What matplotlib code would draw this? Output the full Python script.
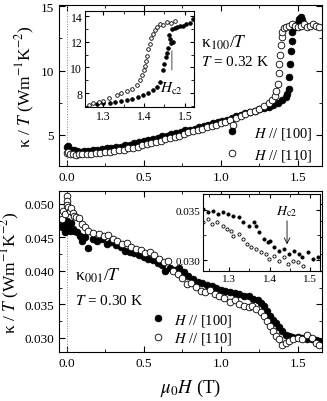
import numpy as np
import matplotlib
matplotlib.use("Agg")
import matplotlib.pyplot as plt
from matplotlib.ticker import MultipleLocator, FormatStrFormatter

plt.rcParams['font.family'] = 'Liberation Serif'
plt.rcParams['mathtext.fontset'] = 'stix'

# ---- top panel: kappa_100 / T  (T = 0.32 K) ----
h100_a = [0.00, 0.01, 0.03, 0.05, 0.07, 0.09, 0.11, 0.14, 0.17, 0.20, 0.23, 0.26, 0.29, 0.32,
          0.35, 0.38, 0.41, 0.44, 0.47, 0.50, 0.53, 0.56, 0.59, 0.62, 0.65, 0.68, 0.71, 0.74,
          0.77, 0.80, 0.83, 0.86, 0.89, 0.92, 0.95, 0.98, 1.01, 1.04, 1.07, 1.10, 1.13, 1.16,
          1.19, 1.22, 1.25, 1.28, 1.31, 1.34, 1.37, 1.40, 1.42, 1.43, 1.44, 1.445, 1.45, 1.455,
          1.46, 1.465, 1.47, 1.48, 1.49, 1.50, 1.51, 1.52, 1.53]
k100_a = [4.10, 4.15, 3.85, 3.80, 3.75, 3.70, 3.72, 3.78, 3.80, 3.85, 3.90, 3.95, 4.00, 4.05,
          4.10, 4.20, 4.25, 4.35, 4.45, 4.55, 4.60, 4.70, 4.80, 4.90, 4.95, 5.05, 5.15, 5.25,
          5.35, 5.40, 5.50, 5.60, 5.70, 5.80, 5.90, 6.00, 6.10, 6.20, 6.35, 6.45, 6.55, 6.70,
          6.80, 6.90, 7.00, 7.10, 7.20, 7.35, 7.50, 7.70, 7.95, 8.20, 8.60, 9.50, 10.5, 11.5,
          12.3, 13.0, 13.3, 13.4, 13.5, 13.7, 14.0, 14.2, 13.9]
h100_b = [0.00, 0.01, 0.02, 0.04, 0.06, 0.08, 0.10, 0.13, 0.16, 0.19, 0.22, 0.25, 0.28, 0.31,
          0.34, 0.37, 0.40, 0.43, 0.46, 0.49, 0.52, 0.55, 0.58, 0.61, 0.64, 0.67, 0.70, 0.73,
          0.76, 0.79, 0.82, 0.85, 0.88, 0.91, 0.94, 0.97, 1.00, 1.03, 1.06, 1.08, 1.10, 1.13,
          1.16, 1.19, 1.22, 1.25, 1.28, 1.31, 1.33, 1.35, 1.36, 1.37, 1.375, 1.38, 1.385, 1.39,
          1.395, 1.40, 1.41, 1.42, 1.44, 1.46, 1.48, 1.50, 1.52, 1.54, 1.56, 1.58, 1.60, 1.62, 1.64]
k100_b = [3.60, 3.70, 3.55, 3.50, 3.45, 3.50, 3.55, 3.50, 3.55, 3.60, 3.60, 3.65, 3.70, 3.75,
          3.80, 3.85, 3.95, 4.00, 4.10, 4.20, 4.30, 4.35, 4.45, 4.55, 4.65, 4.75, 4.85, 4.95,
          5.05, 5.20, 5.30, 5.40, 5.50, 5.60, 5.70, 5.80, 5.90, 6.00, 6.15, 5.75, 6.30, 6.45,
          6.60, 6.75, 6.90, 7.05, 7.25, 7.45, 7.70, 8.00, 8.40, 9.00, 9.80, 10.5, 11.2, 12.0,
          12.6, 13.0, 13.3, 13.4, 13.5, 13.6, 13.5, 13.4, 13.5, 13.6, 13.4, 13.5, 13.6, 13.5, 13.4]

# top inset (zoom near Hc2)
hi100_a = [1.249, 1.261, 1.285, 1.30, 1.317, 1.33, 1.345, 1.359, 1.37, 1.385, 1.398, 1.41,
           1.422, 1.432, 1.439, 1.446, 1.450, 1.453, 1.456, 1.458, 1.460, 1.463, 1.466, 1.468,
           1.471, 1.475, 1.48, 1.487, 1.495, 1.503, 1.512, 1.52]
ki100_a = [6.70, 6.85, 7.15, 7.20, 7.23, 7.30, 7.38, 7.46, 7.55, 7.70, 7.85, 8.00,
           8.23, 8.50, 8.90, 9.77, 10.3, 10.8, 11.1, 11.5, 12.5, 12.2, 11.9, 13.0,
           12.0, 13.1, 13.15, 13.2, 13.2, 13.4, 13.5, 13.8]
hi100_b = [1.251, 1.265, 1.276, 1.29, 1.30, 1.315, 1.334, 1.345, 1.358, 1.37, 1.383, 1.39,
           1.395, 1.399, 1.402, 1.405, 1.408, 1.411, 1.415, 1.418, 1.422, 1.427, 1.432,
           1.439, 1.447, 1.456, 1.466, 1.476]
ki100_b = [7.00, 7.10, 7.23, 7.30, 7.38, 7.60, 7.85, 8.00, 8.15, 8.35, 8.60, 9.00,
           9.40, 9.80, 10.15, 10.5, 10.9, 11.4, 11.85, 12.3, 12.6, 12.9, 13.15,
           13.4, 13.3, 13.55, 13.5, 13.6]

# ---- bottom panel: kappa_001 / T  (T = 0.30 K) ----
h001_a = [-0.03, -0.02, -0.01, 0.00, 0.005, 0.01, 0.02, 0.03, 0.04, 0.05, 0.07, 0.09, 0.10,
          0.12, 0.14, 0.17, 0.20, 0.23, 0.26, 0.29, 0.32, 0.35, 0.38, 0.41, 0.44, 0.47, 0.50,
          0.53, 0.56, 0.59, 0.62, 0.64, 0.67, 0.70, 0.73, 0.76, 0.79, 0.82, 0.85, 0.88, 0.91,
          0.94, 0.97, 1.00, 1.03, 1.06, 1.09, 1.12, 1.15, 1.18, 1.21, 1.24, 1.26, 1.28, 1.30,
          1.32, 1.34, 1.36, 1.38, 1.40, 1.42, 1.44, 1.46, 1.48, 1.50, 1.53, 1.56, 1.59, 1.62, 1.64]
k001_a = [0.0465, 0.0470, 0.0458, 0.0475, 0.0462, 0.0468, 0.0460, 0.0472, 0.0463, 0.0459,
          0.0458, 0.0452, 0.0445, 0.0450, 0.0434, 0.0448, 0.0444, 0.0447, 0.0440, 0.0443,
          0.0438, 0.0436, 0.0430, 0.0428, 0.0426, 0.0424, 0.0421, 0.0418, 0.0416, 0.0412,
          0.0409, 0.0400, 0.0405, 0.0402, 0.0404, 0.0398, 0.0392, 0.0388, 0.0384, 0.0382,
          0.0379, 0.0377, 0.0375, 0.0372, 0.0370, 0.0368, 0.0367, 0.0365, 0.0362, 0.0363,
          0.0358, 0.0356, 0.0352, 0.0348, 0.0340, 0.0333, 0.0327, 0.0322, 0.0316, 0.0310,
          0.0305, 0.0303, 0.0302, 0.0300, 0.0301, 0.0300, 0.0298, 0.0299, 0.0297, 0.0296]
h001_b = [-0.03, -0.02, -0.01, 0.00, 0.003, 0.006, 0.01, 0.02, 0.03, 0.04, 0.05, 0.06, 0.08,
          0.10, 0.12, 0.14, 0.17, 0.21, 0.24, 0.27, 0.30, 0.33, 0.36, 0.39, 0.42, 0.45, 0.48,
          0.51, 0.54, 0.57, 0.60, 0.63, 0.66, 0.69, 0.72, 0.75, 0.78, 0.81, 0.84, 0.87, 0.90,
          0.93, 0.96, 0.99, 1.02, 1.06, 1.09, 1.12, 1.15, 1.18, 1.20, 1.23, 1.26, 1.28, 1.30,
          1.32, 1.34, 1.36, 1.38, 1.40, 1.42, 1.44, 1.47, 1.50, 1.53, 1.56, 1.59, 1.62, 1.64]
k001_b = [0.0478, 0.0490, 0.0485, 0.0512, 0.0505, 0.0498, 0.0495, 0.0490, 0.0494, 0.0486,
          0.0482, 0.0480, 0.0479, 0.0470, 0.0466, 0.0460, 0.0457, 0.0455, 0.0452, 0.0453,
          0.0447, 0.0445, 0.0440, 0.0441, 0.0436, 0.0433, 0.0431, 0.0427, 0.0428, 0.0423,
          0.0418, 0.0413, 0.0415, 0.0400, 0.0395, 0.0390, 0.0380, 0.0382, 0.0376, 0.0370,
          0.0368, 0.0372, 0.0365, 0.0362, 0.0360, 0.0354, 0.0356, 0.0350, 0.0348, 0.0346,
          0.0348, 0.0343, 0.0338, 0.0333, 0.0325, 0.0318, 0.0310, 0.0303, 0.0298, 0.0290,
          0.0292, 0.0295, 0.0298, 0.0300, 0.0298, 0.0305, 0.0300, 0.0292, 0.0289]

# bottom inset (zoom near Hc2)
hi001_a = [1.235, 1.247, 1.26, 1.272, 1.285, 1.298, 1.31, 1.323, 1.335, 1.348, 1.36, 1.365,
           1.373, 1.385, 1.395, 1.402, 1.41, 1.423, 1.435, 1.448, 1.46, 1.473, 1.48, 1.495,
           1.507, 1.52]
ki001_a = [0.0351, 0.0348, 0.0349, 0.0346, 0.0348, 0.0346, 0.0344, 0.0343, 0.0338, 0.0334,
           0.0338, 0.0334, 0.0328, 0.0321, 0.0318, 0.0319, 0.0313, 0.0309, 0.0311, 0.0306,
           0.0309, 0.0306, 0.0303, 0.0308, 0.0301, 0.0303]
hi001_b = [1.235, 1.247, 1.258, 1.27, 1.285, 1.295, 1.303, 1.31, 1.323, 1.333, 1.345, 1.353,
           1.365, 1.378, 1.39, 1.398, 1.41, 1.423, 1.435, 1.445, 1.458, 1.47, 1.483]
ki001_b = [0.0338, 0.0341, 0.0336, 0.0338, 0.0334, 0.0331, 0.0329, 0.0324, 0.0326, 0.0321,
           0.0316, 0.0313, 0.0311, 0.0308, 0.0306, 0.0301, 0.0304, 0.0299, 0.0303, 0.0296,
           0.0299, 0.0298, 0.0294]

labels = ['$H$ // [100]', '$H$ // [110]']


def style(ax, fs):
    ax.tick_params(which='both', direction='in', top=True, right=True, labelsize=fs)
    ax.tick_params(which='major', length=4, width=0.8)
    ax.tick_params(which='minor', length=2, width=0.6)
    for s in ax.spines.values():
        s.set_linewidth(0.8)


def pts(ax, h, k, filled, ms, lab=None):
    return ax.plot(h, k, 'o', ms=ms, mfc='k' if filled else 'white', mec='k',
                   mew=0.6, ls='none', label=lab)[0]


fig = plt.figure(figsize=(3.27, 4.02), dpi=100)

# top main
ax1 = fig.add_axes([0.180, 0.585, 0.804, 0.400])
ax1.axvline(0, color='gray', ls=':', lw=0.7)
pts(ax1, h100_a, k100_a, True, 4.8, labels[0])
pts(ax1, h100_b, k100_b, False, 4.8, labels[1])
ax1.set_xlim(-0.05, 1.655)
ax1.set_ylim(2.6, 15.1)
ax1.xaxis.set_major_locator(MultipleLocator(0.5))
ax1.xaxis.set_minor_locator(MultipleLocator(0.25))
ax1.xaxis.set_major_formatter(FormatStrFormatter('%.1f'))
ax1.yaxis.set_major_locator(MultipleLocator(5))
ax1.yaxis.set_minor_locator(MultipleLocator(2.5))
style(ax1, 9.5)
ax1.set_ylabel('κ / $T$ (Wm$^{-1}$K$^{-2}$)', fontsize=12.5)
ax1.yaxis.set_label_coords(-0.085, 0.5)
ax1.text(0.54, 0.74, 'κ$_{100}$/$T$', transform=ax1.transAxes, fontsize=12.5)
ax1.text(0.54, 0.63, '$T$ = 0.32 K', transform=ax1.transAxes, fontsize=11)
ax1.legend(loc='lower right', bbox_to_anchor=(1.0, -0.035), frameon=False, fontsize=10.5,
           handlelength=0.8, handletextpad=1.15, labelspacing=0.4, borderaxespad=0.2)

# top inset
ia = fig.add_axes([0.260, 0.731, 0.333, 0.239])
pts(ia, hi100_a, ki100_a, True, 2.6)
pts(ia, hi100_b, ki100_b, False, 2.6)
ia.set_xlim(1.256, 1.522)
ia.set_ylim(6.9, 14.4)
ia.xaxis.set_major_locator(MultipleLocator(0.1))
ia.xaxis.set_minor_locator(MultipleLocator(0.05))
ia.yaxis.set_major_locator(MultipleLocator(2))
ia.yaxis.set_minor_locator(MultipleLocator(1))
style(ia, 8.5)
ia.tick_params(which='major', length=3)
ia.tick_params(axis='both', pad=2)
ia.annotate('', xy=(1.468, 11.5), xytext=(1.468, 9.6),
            arrowprops=dict(arrowstyle='-', color='gray', lw=1))
ia.text(1.440, 8.1, '$H_{\\rm c2}$', fontsize=11)

# bottom main
ax2 = fig.add_axes([0.180, 0.122, 0.804, 0.400])
ax2.axvline(0, color='gray', ls=':', lw=0.7)
pts(ax2, h001_a, k001_a, True, 4.8, labels[0])
pts(ax2, h001_b, k001_b, False, 4.8, labels[1])
ax2.set_xlim(-0.05, 1.655)
ax2.set_ylim(0.0279, 0.0519)
ax2.xaxis.set_major_locator(MultipleLocator(0.5))
ax2.xaxis.set_minor_locator(MultipleLocator(0.25))
ax2.xaxis.set_major_formatter(FormatStrFormatter('%.1f'))
ax2.yaxis.set_major_locator(MultipleLocator(0.005))
ax2.yaxis.set_minor_locator(MultipleLocator(0.0025))
ax2.yaxis.set_major_formatter(FormatStrFormatter('%.3f'))
style(ax2, 9.5)
ax2.set_ylabel('κ / $T$ (Wm$^{-1}$K$^{-2}$)', fontsize=12.5)
ax2.yaxis.set_label_coords(-0.14, 0.5)
ax2.set_xlabel('$\\mu_0H$ (T)', fontsize=13.5, labelpad=6)
ax2.text(0.06, 0.45, 'κ$_{001}$/$T$', transform=ax2.transAxes, fontsize=12.5)
ax2.text(0.06, 0.30, '$T$ = 0.30 K', transform=ax2.transAxes, fontsize=11)
ax2.legend(loc='lower left', bbox_to_anchor=(0.32, -0.02), frameon=False, fontsize=10.5,
           handlelength=0.8, handletextpad=0.7, labelspacing=0.2, borderaxespad=0.2)

# bottom inset
ib = fig.add_axes([0.621, 0.323, 0.358, 0.192])
pts(ib, hi001_a, ki001_a, True, 2.3)
pts(ib, hi001_b, ki001_b, False, 2.3)
ib.set_xlim(1.235, 1.525)
ib.set_ylim(0.0289, 0.0366)
ib.xaxis.set_major_locator(MultipleLocator(0.1))
ib.xaxis.set_minor_locator(MultipleLocator(0.05))
ib.yaxis.set_major_locator(MultipleLocator(0.005))
ib.yaxis.set_minor_locator(MultipleLocator(0.0025))
ib.yaxis.set_major_formatter(FormatStrFormatter('%.3f'))
style(ib, 8)
ib.tick_params(which='major', length=3)
ib.tick_params(axis='both', pad=2)
ib.annotate('', xy=(1.443, 0.0313), xytext=(1.443, 0.0342),
            arrowprops=dict(arrowstyle='->', color='k', lw=0.6))
ib.text(1.415, 0.0346, '$H_{\\rm c2}$', fontsize=10)

fig.savefig('out.png', dpi=100)
